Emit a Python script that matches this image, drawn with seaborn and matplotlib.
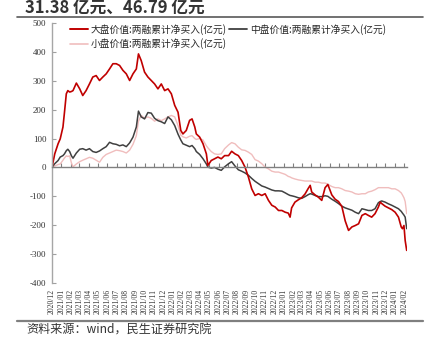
import matplotlib
matplotlib.use("Agg")
import matplotlib.pyplot as plt
import matplotlib.dates as mdates
from matplotlib.lines import Line2D
import pandas as pd
import seaborn as sns

# Cumulative margin-financing net buying by style (亿元)
dates = [
    "2020-12-01", "2020-12-10", "2020-12-21", "2020-12-28", "2021-01-06", "2021-01-11",
    "2021-01-17", "2021-01-22", "2021-01-28", "2021-02-03", "2021-02-08", "2021-02-19",
    "2021-03-02", "2021-03-12", "2021-03-23", "2021-04-03", "2021-04-14", "2021-04-25",
    "2021-05-06", "2021-05-17", "2021-05-28", "2021-06-08", "2021-06-19", "2021-06-30",
    "2021-07-11", "2021-07-22", "2021-08-02", "2021-08-13", "2021-08-24", "2021-09-04",
    "2021-09-11", "2021-09-20", "2021-10-01", "2021-10-12", "2021-10-23", "2021-11-03",
    "2021-11-14", "2021-11-25", "2021-12-06", "2021-12-17", "2021-12-28", "2022-01-08",
    "2022-01-19", "2022-01-28", "2022-02-04", "2022-02-15", "2022-02-26", "2022-03-06",
    "2022-03-15", "2022-03-20", "2022-03-31", "2022-04-11", "2022-04-22", "2022-04-27",
    "2022-05-08", "2022-05-19", "2022-05-30", "2022-06-10", "2022-06-21",
    "2022-07-04", "2022-07-14", "2022-07-25", "2022-08-05", "2022-08-16", "2022-08-27",
    "2022-09-07", "2022-09-18", "2022-09-29", "2022-10-10", "2022-10-21", "2022-11-01",
    "2022-11-12", "2022-11-23", "2022-12-04", "2022-12-15", "2022-12-26", "2023-01-06",
    "2023-01-16", "2023-01-22", "2023-01-27", "2023-02-07", "2023-02-18", "2023-03-01",
    "2023-03-12", "2023-03-23", "2023-03-29", "2023-04-03", "2023-04-14", "2023-04-25",
    "2023-05-06", "2023-05-17", "2023-05-26", "2023-06-08", "2023-06-19", "2023-06-30",
    "2023-07-11", "2023-07-22", "2023-08-02", "2023-08-13", "2023-08-24", "2023-09-04",
    "2023-09-15", "2023-09-26", "2023-10-06", "2023-10-17", "2023-10-28", "2023-11-08",
    "2023-11-14", "2023-11-19", "2023-11-30", "2023-12-11", "2023-12-22", "2024-01-02",
    "2024-01-13", "2024-01-22", "2024-01-26", "2024-01-31", "2024-02-04", "2024-02-09",
]

large_value = [
    0, 47, 82, 99, 140, 191, 255, 266, 261, 263, 266, 292, 272, 249, 266, 289, 313, 318,
    301, 313, 324, 341, 359, 359, 353, 336, 324, 301, 324, 341, 393, 370, 330, 313, 301,
    289, 272, 289, 266, 272, 255, 215, 191, 128, 116, 128, 163, 168, 140, 116, 105, 82,
    47, 7, 24, 30, 36, 30, 41,
    41, 56, 47, 41, 24, 1, -33, -74, -97, -91, -97, -91, -114, -131, -137, -149, -149,
    -155, -158, -172, -140, -120, -112, -105, -92, -72, -62, -85, -95, -103, -114, -70,
    -59, -95, -110, -118, -135, -185, -218, -206, -201, -195, -166, -160, -166, -172,
    -160, -137, -120, -125, -134, -140, -146, -155, -172, -206, -212, -201, -253, -287,
]

mid_value = [
    0, 13, 24, 36, 41, 47, 58, 63, 55, 40, 32, 50, 63, 65, 60, 65, 55, 52, 57, 65, 72,
    87, 82, 80, 75, 78, 72, 85, 105, 140, 195, 175, 168, 190, 188, 170, 162, 158, 152,
    175, 165, 145, 115, 95, 82, 77, 72, 76, 65, 55, 45, 30, 12, 1, -2, 0, -6, -10, 2,
    13, 20, 5, -8, -13, -19, -27, -38, -48, -56, -64, -68, -73, -78, -81, -81, -82, -88,
    -94, -97, -98, -101, -105, -107, -101, -94, -91, -92, -97, -101, -101, -98, -100,
    -110, -117, -125, -134, -140, -144, -148, -155, -160, -143, -146, -149, -149, -143,
    -122, -118, -116, -120, -126, -131, -137, -143, -152, -158, -165, -172, -212,
]

small_value = [
    0, 5, 10, 12, 25, 33, 40, 38, 40, 15, 2, 12, 20, 25, 30, 35, 32, 25, 18, 35, 45, 50,
    55, 60, 58, 55, 50, 60, 80, 110, 160, 180, 170, 175, 170, 160, 168, 162, 168, 175,
    180, 175, 145, 112, 106, 102, 108, 110, 100, 97, 100, 95, 75, 68, 55, 47, 45, 47, 65,
    78, 86, 82, 70, 61, 59, 53, 45, 27, 22, 13, 1, -5, -13, -16, -16, -20, -24, -31, -33,
    -36, -40, -43, -45, -47, -47, -47, -47, -51, -51, -54, -54, -58, -66, -70, -70, -74,
    -80, -82, -85, -91, -93, -91, -91, -85, -82, -77, -70, -70, -70, -70, -70, -74, -74,
    -80, -88, -95, -105, -118, -160,
]

series_names = [
    "大盘价值:两融累计净买入(亿元)",
    "中盘价值:两融累计净买入(亿元)",
    "小盘价值:两融累计净买入(亿元)",
]
series_colors = ["#C00000", "#404040", "#F0BDBD"]
series_widths = [1.2, 1.1, 1.0]

y_ticks = [-400, -300, -200, -100, 0, 100, 200, 300, 400, 500]
tick_months = pd.date_range("2020-12-01", "2024-02-01", freq="MS")
tick_labels = [d.strftime("%Y/%m") for d in tick_months]

title_text = "31.38 亿元、46.79 亿元"
source_text = "资料来源：wind，民生证券研究院"

sns.set_theme(style="white")
plt.rcParams["font.family"] = ["Noto Sans CJK SC", "DejaVu Sans"]
plt.rcParams["axes.unicode_minus"] = False

df = pd.DataFrame({
    "date": pd.to_datetime(dates),
    series_names[0]: large_value,
    series_names[1]: mid_value,
    series_names[2]: small_value,
}).melt(id_vars="date", var_name="series", value_name="value")

fig = plt.figure(figsize=(4.32, 3.49), dpi=100)
W, H = 432, 349
ax = fig.add_axes([52 / W, 1 - 283 / H, (407 - 52) / W, (283 - 23) / H])

# small cap underneath, large cap on top
for i in [2, 1, 0]:
    sns.lineplot(data=df[df["series"] == series_names[i]], x="date", y="value",
                 color=series_colors[i], linewidth=series_widths[i], ax=ax, legend=False)

ax.set_xlim(pd.Timestamp("2020-12-01"), pd.Timestamp("2024-02-10"))
ax.set_ylim(-400, 500)
ax.set_xlabel("")
ax.set_ylabel("")

serif = "Liberation Serif"
ax.set_yticks(y_ticks)
ax.set_yticklabels([str(v) for v in y_ticks], fontfamily=serif, fontsize=6.5, color="#333333")
ax.tick_params(axis="y", direction="in", length=3, width=0.8, color="#A0A0A0", pad=4, left=True)

for s in ["top", "right"]:
    ax.spines[s].set_visible(False)
ax.spines["left"].set_color("#A6A6A6")
ax.spines["left"].set_linewidth(1.0)
ax.spines["bottom"].set_position(("data", 0))
ax.spines["bottom"].set_color("#808080")
ax.spines["bottom"].set_linewidth(1.0)

tick_nums = mdates.date2num(tick_months.to_pydatetime())
ax.set_xticks(tick_nums)
ax.tick_params(axis="x", direction="in", length=3, width=0.8, color="#808080",
               labelbottom=False, bottom=True)

sec = ax.secondary_xaxis("bottom")
sec.set_xticks(tick_nums)
sec.set_xticklabels(tick_labels, rotation=90, fontfamily=serif, fontsize=5.5, color="#333333")
sec.tick_params(axis="x", length=0, pad=4)
sec.spines["bottom"].set_visible(False)

handles = [Line2D([], [], color=series_colors[i], linewidth=series_widths[i] + 0.2) for i in range(3)]
order = [0, 2, 1]
ax.legend([handles[i] for i in order], [series_names[i] for i in order], ncol=2,
          loc="upper left", bbox_to_anchor=(70 / W, 1 - 24 / H), bbox_transform=fig.transFigure,
          frameon=False, fontsize=7, handlelength=1.8, handletextpad=0.3,
          columnspacing=0.3, labelspacing=0.35, borderpad=0, borderaxespad=0)

fig.text(25 / W, 1 - 13 / H, title_text, fontsize=12, fontweight="bold",
         color="#333333", va="baseline", ha="left")
fig.add_artist(Line2D([17 / W, 423 / W], [1 - 16.5 / H] * 2, color="#595959", linewidth=1.2))
fig.add_artist(Line2D([17 / W, 423 / W], [1 - 321 / H] * 2, color="#7F7F7F", linewidth=1.6))
fig.text(26 / W, 1 - 330 / H, source_text, fontsize=8.7, color="#333333", va="center", ha="left")

fig.savefig("out.png", dpi=100, facecolor="white")
